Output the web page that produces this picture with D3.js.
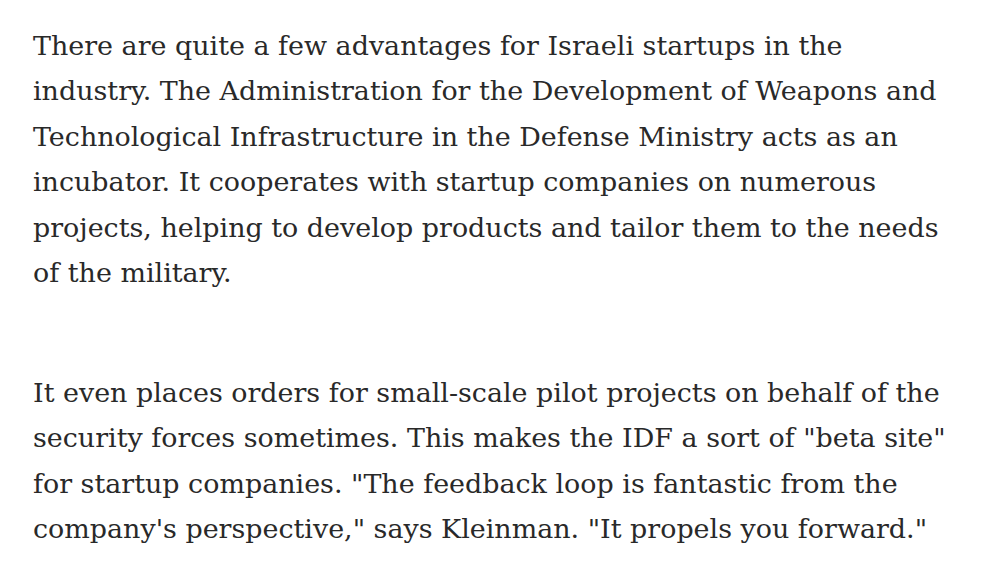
<!DOCTYPE html>
<html>
<head>
<meta charset="utf-8">
<script src="https://cdn.jsdelivr.net/npm/d3@7"></script>
<style>
  body { margin: 0; background: #fff; }
</style>
</head>
<body>
<svg width="1000" height="579"></svg>
<script>
var paragraph1 = [
    "There are quite a few advantages for Israeli startups in the",
    "industry. The Administration for the Development of Weapons and",
    "Technological Infrastructure in the Defense Ministry acts as an",
    "incubator. It cooperates with startup companies on numerous",
    "projects, helping to develop products and tailor them to the needs",
    "of the military."
];
var paragraph2 = [
    "It even places orders for small-scale pilot projects on behalf of the",
    "security forces sometimes. This makes the IDF a sort of \"beta site\"",
    "for startup companies. \"The feedback loop is fantastic from the",
    "company's perspective,\" says Kleinman. \"It propels you forward.\""
];

function main(){
    var svg = d3.select("svg"),
        left = 33,
        lineHeight = 45.4,
        targetWidth = 904; // width of the widest line in the picture

    var lines = paragraph1.map(function(t, i){ return {text: t, y: 55 + i * lineHeight}; })
        .concat(paragraph2.map(function(t, i){ return {text: t, y: 402 + i * lineHeight}; }));

    var txt = svg.selectAll("text")
        .data(lines)
        .enter().append("text")
        .attr("x", left)
        .attr("y", function(d){ return d.y; })
        .attr("font-family", "'DejaVu Serif', 'Liberation Serif', serif")
        .attr("font-size", 26)
        .attr("fill", "#292929")
        .text(function(d){ return d.text; });

    // scale font so line 2 spans the same width as in the picture
    var w = txt.filter(function(d, i){ return i === 1; }).node().getComputedTextLength();
    txt.attr("font-size", 26 * targetWidth / w);
}
main();
</script>
</body>
</html>
